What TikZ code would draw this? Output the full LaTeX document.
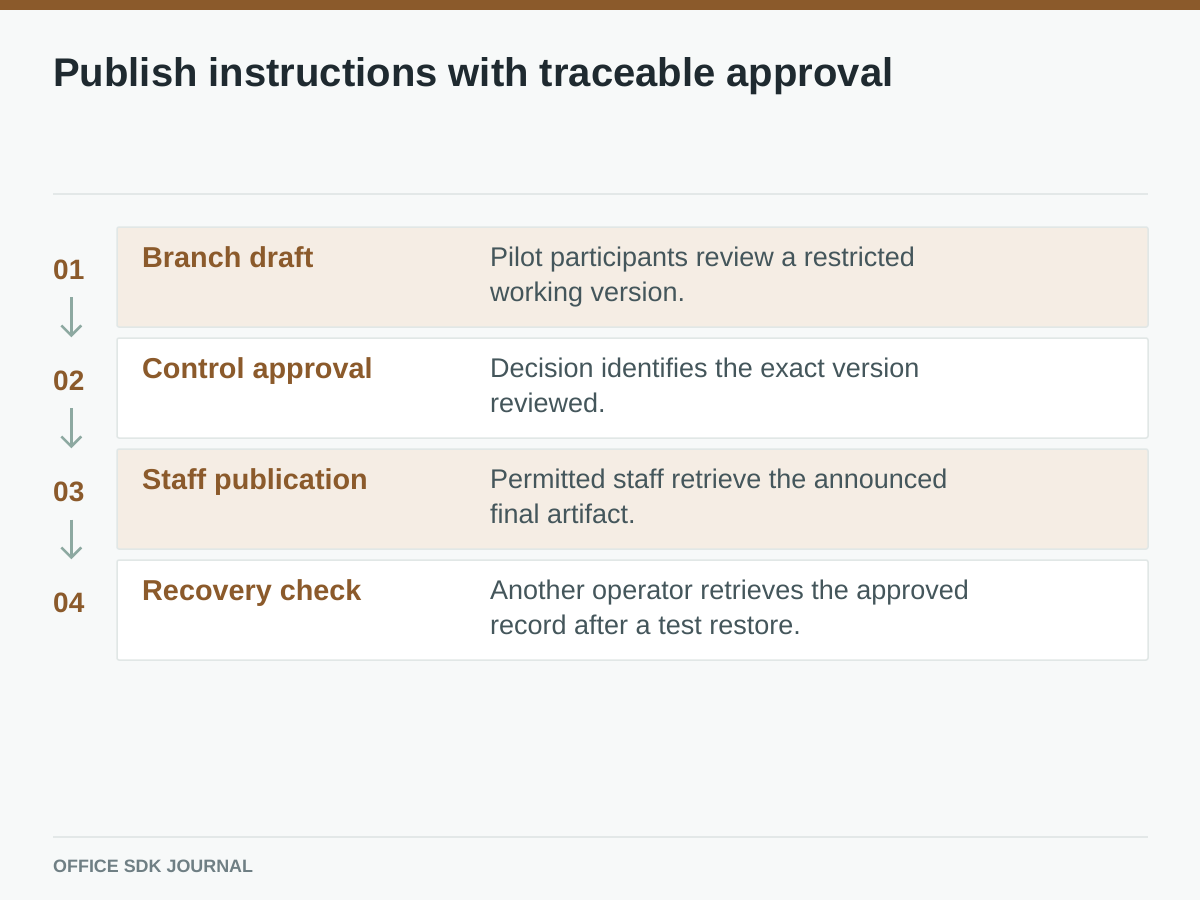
\documentclass[tikz,border=0pt]{standalone}
\usepackage{fontspec}
\setmainfont{Liberation Sans}
\usetikzlibrary{arrows.meta,calc}
\definecolor{bg}{HTML}{F7F9F9}
\definecolor{topbar}{HTML}{8B5A2B}
\definecolor{titlec}{HTML}{1F2A30}
\definecolor{rule}{HTML}{E3E8E8}
\definecolor{accent}{HTML}{8B5A2B}
\definecolor{beige}{HTML}{F5EDE4}
\definecolor{rowline}{HTML}{E1E7E6}
\definecolor{desc}{HTML}{44565B}
\definecolor{arrowc}{HTML}{8DA9A1}
\definecolor{footc}{HTML}{6F7F84}
\tikzset{
  rowbox/.style={draw=rowline, line width=1.5pt, rounded corners=2pt, minimum width=1031pt, minimum height=100pt, inner sep=0pt},
  numlab/.style={anchor=base west, inner sep=0pt, text=accent, font=\fontsize{28}{30}\selectfont\bfseries},
  steptitle/.style={anchor=base west, inner sep=0pt, text=accent, font=\fontsize{28.8}{30}\selectfont\bfseries},
  steptext/.style={anchor=base west, inner sep=0pt, text=desc, align=left, font=\fontsize{27}{35}\selectfont},
  flow/.style={draw=arrowc, line width=2.5pt, -{Straight Barb[length=10pt,width=20pt,line width=2.5pt]}},
}
\begin{document}
\begin{tikzpicture}[x=1pt,y=-1pt]
\useasboundingbox (0,0) rectangle (1200,900);
\fill[bg] (0,0) rectangle (1200,900);
\fill[topbar] (0,0) rectangle (1200,10);
\node[anchor=base west, inner sep=0pt, text=titlec, font=\fontsize{40}{42}\selectfont\bfseries] (title) at (53,86) {Publish instructions with traceable approval};
\draw[rule, line width=1.5pt] (53,194) -- (1148,194);
% rows
\node[rowbox, fill=beige] (r1) at (632.5,277) {};
\node[rowbox, fill=white] (r2) at (632.5,388) {};
\node[rowbox, fill=beige] (r3) at (632.5,499) {};
\node[rowbox, fill=white] (r4) at (632.5,610) {};
% numbers
\node[numlab] (n1) at (53,279) {01};
\node[numlab] (n2) at (53,390) {02};
\node[numlab] (n3) at (53,501) {03};
\node[numlab] (n4) at (53,612) {04};
% arrows
\draw[flow] ($(n1.south)+(2.5,18)$) -- ($(n2.north)+(2.5,-33)$);
\draw[flow] ($(n2.south)+(2.5,18)$) -- ($(n3.north)+(2.5,-33)$);
\draw[flow] ($(n3.south)+(2.5,18)$) -- ($(n4.north)+(2.5,-33)$);
% titles
\node[steptitle] (t1) at (142,267) {Branch draft};
\node[steptitle] (t2) at (142,378) {Control approval};
\node[steptitle] (t3) at (142,489) {Staff publication};
\node[steptitle] (t4) at (142,600) {Recovery check};
% descriptions (anchor = baseline of last line)
\node[steptext] (d1) at (490,301) {Pilot participants review a restricted\\working version.};
\node[steptext] (d2) at (490,412) {Decision identifies the exact version\\reviewed.};
\node[steptext] (d3) at (490,523) {Permitted staff retrieve the announced\\final artifact.};
\node[steptext] (d4) at (490,634) {Another operator retrieves the approved\\record after a test restore.};
% footer
\draw[rule, line width=1.5pt] (53,837) -- (1148,837);
\node[anchor=base west, inner sep=0pt, text=footc, font=\fontsize{17.9}{20}\selectfont\bfseries] (foot) at (53,872) {OFFICE SDK JOURNAL};
\end{tikzpicture}
\end{document}
